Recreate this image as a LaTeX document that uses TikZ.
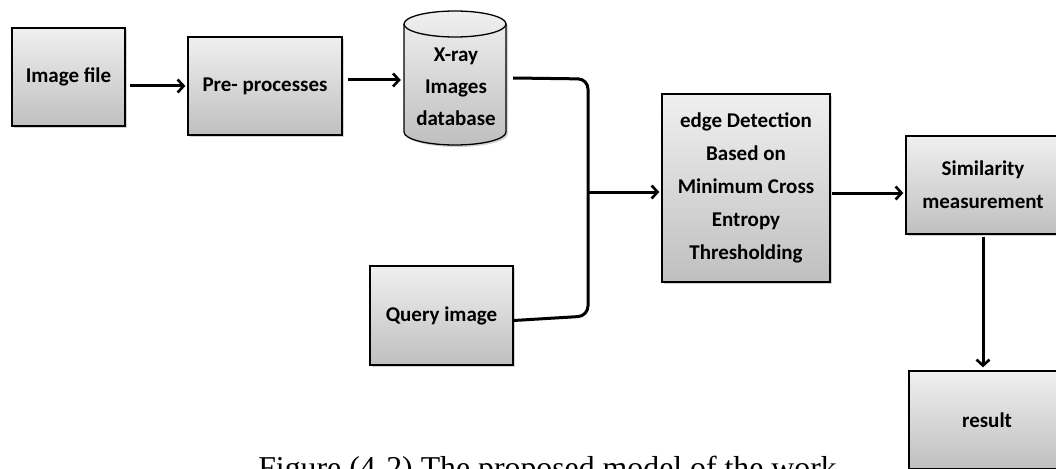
\documentclass[tikz,border=0pt]{standalone}
\usepackage{fontspec}
\setmainfont{Liberation Serif}
\newfontfamily\boxfont{Carlito}
\usetikzlibrary{shapes.geometric,shadows,arrows.meta}
\begin{document}
\begin{tikzpicture}[x=1pt,y=-1pt,
  shadedfill/.style={draw=black, line width=1.3pt, top color=gray!12, bottom color=gray!50,
    drop shadow={shadow xshift=2pt,shadow yshift=-2pt,opacity=0.35}},
  blk/.style={shadedfill,
    font=\boxfont\bfseries\fontsize{21}{33}\selectfont, align=center, inner sep=0pt},
  conn/.style={line width=3pt, -{Straight Barb[length=6pt,width=13pt,line width=2.6pt]}},
  busline/.style={line width=3pt, rounded corners=10pt},
  txt/.style={font=\boxfont\bfseries\fontsize{21}{32}\selectfont, align=center}]
\useasboundingbox (0,0) rectangle (1056,468);
\clip (0,0) rectangle (1056,468);

\node[blk, minimum width=113pt, minimum height=98pt] (img) at (68.5,77) {Image file};
\node[blk, minimum width=154pt, minimum height=98pt] (pre) at (265,86) {Pre- processes};
% database cylinder
\path[shadedfill] (404,24) -- (404,132) arc (180:360:51pt and 13pt) -- (506,24) arc (0:180:51pt and 13pt) -- cycle;
\draw[line width=1.3pt] (404,24) arc (180:360:51pt and 13pt);
\node[minimum width=102pt, minimum height=134pt, inner sep=0pt] (db) at (455,78) {};
\node[txt] (dbtxt) at (456,87) {X-ray\\Images\\database};
\node[blk, minimum width=143pt, minimum height=99pt] (query) at (441.5,315.5) {Query image};
\node[blk, minimum width=168pt, minimum height=188pt] (edge) at (746,188) {edge Detection\\Based on\\Minimum Cross\\Entropy\\Thresholding};
\node[blk, minimum width=154pt, minimum height=98pt] (sim) at (983,185) {Similarity\\measurement};
\node[blk, minimum width=156pt, minimum height=98pt] (res) at (987,420) {result};

\node[anchor=base, font=\fontsize{31.8}{36}\selectfont] (cap) at (547.5,478) {Figure (4-2) The proposed model of the work};

\coordinate (dbout) at ([xshift=7pt]db.east);
\coordinate (bus) at (588,192);

\draw[conn, shorten <=4pt, shorten >=2pt] (img.east |- pre.west) -- (pre.west);
\draw[conn, shorten <=5pt, shorten >=3pt] ([yshift=6pt]pre.east) -- ([yshift=6pt]pre.east -| db.west);
\draw[busline] (dbout) -- (588,79) -- (bus) -- (588,316) -- ([yshift=-5pt]query.east);
\draw[conn, shorten >=2pt] (bus) -- (bus -| edge.west);
\draw[conn, shorten <=1pt, shorten >=2pt] ([yshift=-5pt]edge.east) -- ([yshift=-5pt]edge.east -| sim.west);
\draw[conn, shorten <=2pt, shorten >=3pt] (sim.south) -- (sim.south |- res.north);
\end{tikzpicture}
\end{document}
